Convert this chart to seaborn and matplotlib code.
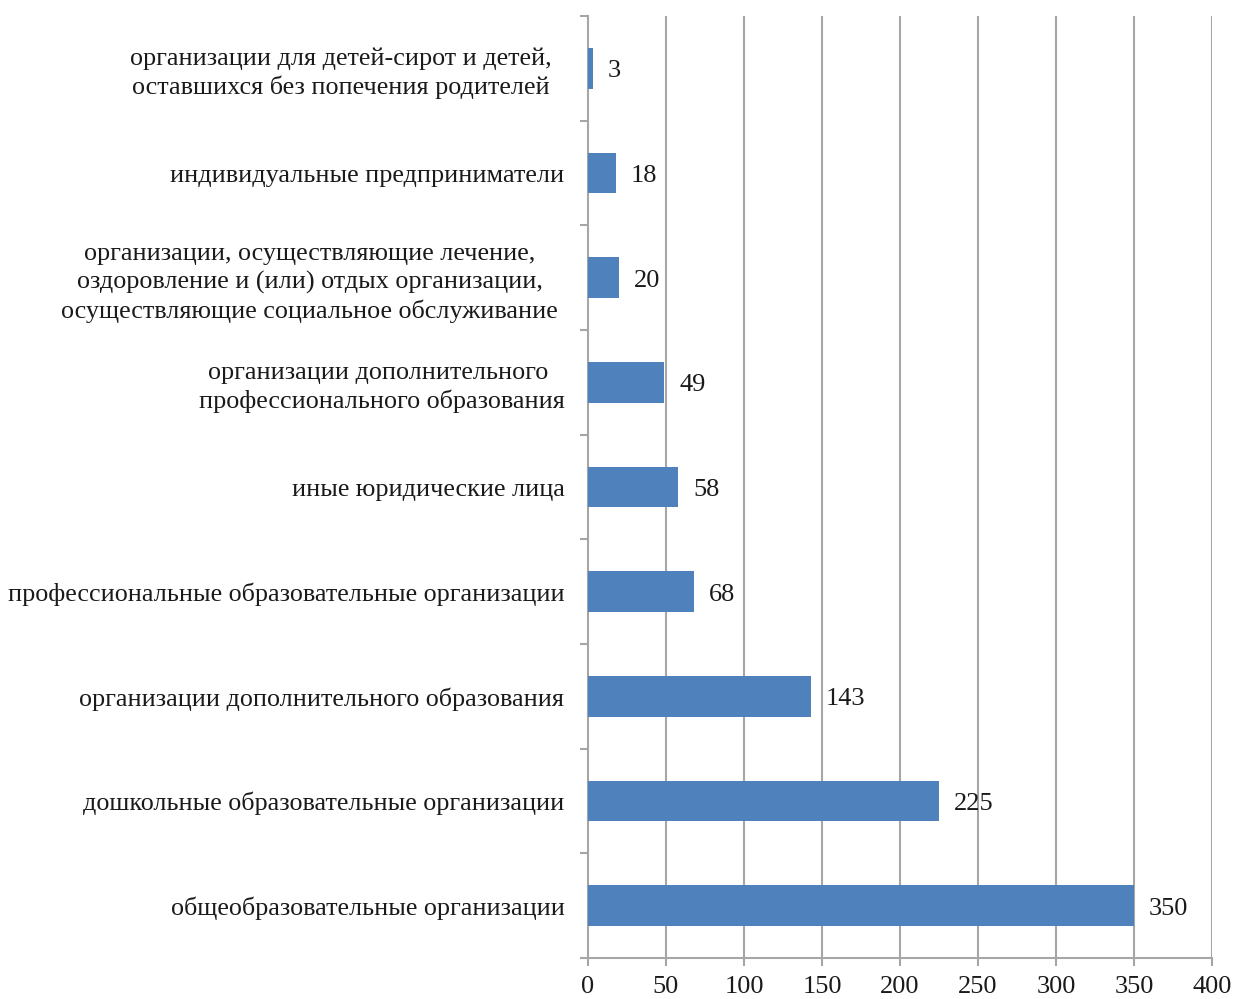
import matplotlib
matplotlib.use("Agg")
import matplotlib.pyplot as plt
import seaborn as sns
import pandas as pd
import numpy as np

categories = [
    "организации для детей-сирот и детей,  \nоставшихся без попечения родителей  ",
    "индивидуальные предприниматели",
    "организации, осуществляющие лечение, \nоздоровление и (или) отдых организации, \nосуществляющие социальное обслуживание ",
    "организации дополнительного \nпрофессионального образования",
    "иные юридические лица",
    "профессиональные образовательные организации",
    "организации дополнительного образования",
    "дошкольные образовательные организации",
    "общеобразовательные организации",
]
values = [3, 18, 20, 49, 58, 68, 143, 225, 350]
x_ticks = [0, 50, 100, 150, 200, 250, 300, 350, 400]

sns.set_theme(style="white")
plt.rcParams['font.family'] = ['Liberation Serif', 'DejaVu Serif']

df = pd.DataFrame({"cat": categories, "val": values})

fig = plt.figure(figsize=(12.34, 9.99), dpi=100)
ax = fig.add_axes([588/1234, 1-958/999, (1212-588)/1234, (958-16)/999])

sns.barplot(data=df, y="cat", x="val", orient="h", color="#4F81BD",
            saturation=1, width=0.39, ax=ax, zorder=3, linewidth=0)

ax.set_xlim(0, 400)
ax.set_ylim(len(categories)-0.5, -0.5)
ax.set_xticks(x_ticks)
ax.set_xticklabels([str(t) for t in x_ticks], fontsize=19, color="#1a1a1a")
ax.set_xlabel("")
ax.set_ylabel("")

grid_c = "#A6A6A6"
for t in x_ticks[1:]:
    ax.axvline(t, color=grid_c, lw=1.5, zorder=1)

ax.set_yticks(range(len(categories)))
ax.set_yticklabels(categories, fontsize=18.8, color="#1a1a1a", multialignment="center",
                   linespacing=1.3)
ax.tick_params(axis="y", which="major", length=0, pad=17)
ax.set_yticks(np.arange(-0.5, len(categories), 1.0), minor=True)
ax.tick_params(axis="y", which="minor", length=6, width=1.5, color=grid_c, left=True)
ax.tick_params(axis="x", which="major", length=6, width=1.5, color=grid_c, bottom=True, pad=7)

for s in ["top", "right"]:
    ax.spines[s].set_visible(False)
for s in ["left", "bottom"]:
    ax.spines[s].set_color(grid_c)
    ax.spines[s].set_linewidth(1.5)

for i, v in enumerate(values):
    ax.annotate(str(v), xy=(v, i), xytext=(15, -3), textcoords="offset pixels",
                ha="left", va="center", fontsize=19, color="#1a1a1a", zorder=4)

fig.savefig("out.png", dpi=100)
